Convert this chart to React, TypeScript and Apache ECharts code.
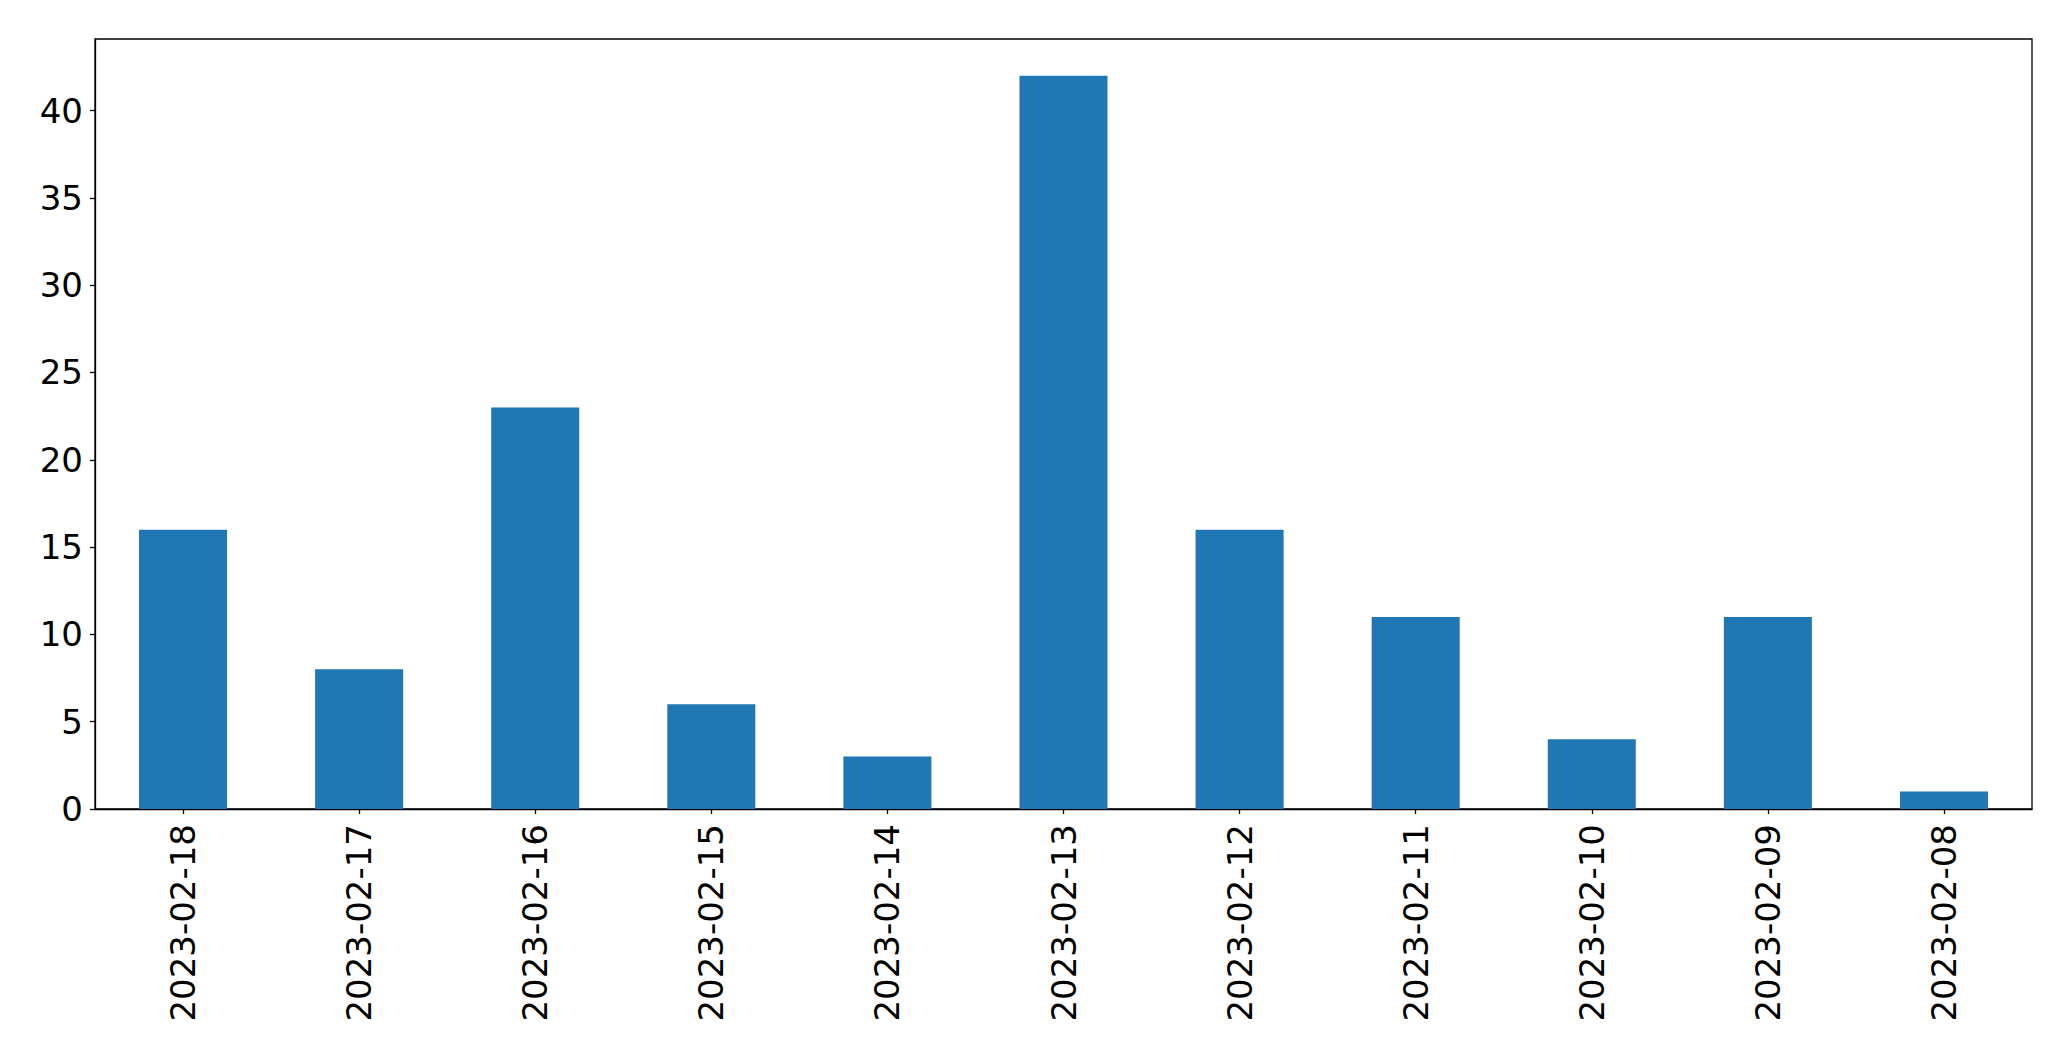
import React, { useEffect, useRef } from "react";
import * as echarts from "echarts";

const categories = [
  "2023-02-18", "2023-02-17", "2023-02-16", "2023-02-15", "2023-02-14", "2023-02-13",
  "2023-02-12", "2023-02-11", "2023-02-10", "2023-02-09", "2023-02-08",
];
const counts = [16, 8, 23, 6, 3, 42, 16, 11, 4, 11, 1];
const yTicks = [0, 5, 10, 15, 20, 25, 30, 35, 40];
const yMax = 44.1;

export default function App() {
  const ref = useRef<HTMLDivElement>(null);
  useEffect(() => {
    if (!ref.current) return;
    const chart = echarts.init(ref.current, undefined, { renderer: "svg" });
    const font = "DejaVu Sans";
    chart.setOption({
      animation: false,
      backgroundColor: "#ffffff",
      grid: {
        left: 95,
        top: 39,
        right: 39,
        bottom: 252,
        show: true,
        borderColor: "#000000",
        borderWidth: 1.3,
        backgroundColor: "transparent",
      },
      xAxis: {
        type: "category",
        data: categories,
        boundaryGap: true,
        axisLine: { show: true, lineStyle: { color: "#000", width: 1.3 } },
        axisTick: { show: true, alignWithLabel: true, length: 5, lineStyle: { color: "#000", width: 1.3 } },
        axisLabel: {
          rotate: 90,
          interval: 0,
          margin: 15,
          color: "#000",
          fontFamily: font,
          fontSize: 34,
        },
        splitLine: { show: false },
      },
      yAxis: {
        type: "value",
        min: 0,
        max: yMax,
        axisLine: { show: true, lineStyle: { color: "#000", width: 1.3 } },
        axisTick: {
          show: true,
          length: 5,
          customValues: yTicks,
          lineStyle: { color: "#000", width: 1.3 },
        },
        axisLabel: {
          margin: 12,
          color: "#000",
          fontFamily: font,
          fontSize: 34,
          customValues: yTicks,
        },
        splitLine: { show: false },
      },
      series: [
        {
          type: "bar",
          data: counts,
          barWidth: "50%",
          itemStyle: { color: "#1f77b4" },
        },
      ],
    });
    return () => chart.dispose();
  }, []);
  return (
    <div
      ref={ref}
      style={{ position: "fixed", left: 0, top: 0, width: 2071, height: 1061 }}
    />
  );
}
